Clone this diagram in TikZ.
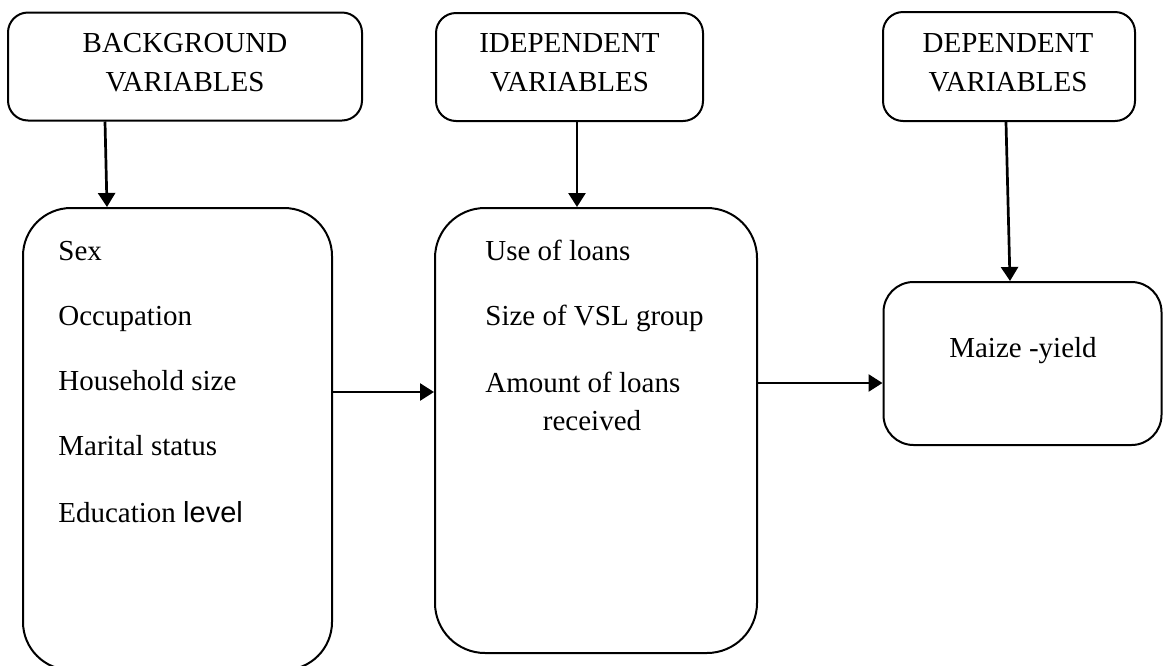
\documentclass[tikz,border=0pt]{standalone}
\usepackage{fontspec}
\setmainfont{Liberation Serif}
\newfontfamily\arialfont{Liberation Sans}
\usetikzlibrary{arrows.meta}
\begin{document}
\begin{tikzpicture}[x=0.5pt,y=-0.5pt,
  every node/.style={font=\fontsize{14.5pt}{19.5pt}\selectfont},
  topbox/.style={draw, line width=1pt, rounded corners=10pt, inner sep=0pt},
  bigbox/.style={draw, line width=1pt, inner sep=0pt},
  txt/.style={inner sep=0pt, anchor=base west},
  head/.style={inner sep=0pt, align=center},
  arr/.style={line width=1.35pt, -{Triangle[length=7pt,width=8.5pt]}}]
\useasboundingbox (0,0) rectangle (1163,665);
\clip (0,0) rectangle (1163,665);
% top boxes
\node[topbox, minimum width=177pt, minimum height=54pt] (hb) at (185,66.5) {};
\node[head] (hbt) at (185,63) {BACKGROUND\\VARIABLES};
\node[topbox, minimum width=133.5pt, minimum height=54pt] (hi) at (569.5,67) {};
\node[head] (hit) at (569.5,63) {IDEPENDENT\\VARIABLES};
\node[topbox, minimum width=126pt, minimum height=54.5pt] (hd) at (1009,66.5) {};
\node[head] (hdt) at (1008,63) {DEPENDENT\\VARIABLES};
% big boxes
\node[bigbox, rounded corners=24pt, minimum width=154.5pt, minimum height=231pt] (b1) at (177.5,439) {};
\node[bigbox, rounded corners=25pt, minimum width=161pt, minimum height=222.5pt] (b2) at (596,430.5) {};
\node[bigbox, rounded corners=15pt, minimum width=139pt, minimum height=81.5pt] (b3) at (1022.5,363.5) {};
% texts box 1
\node[txt] (t11) at (58,260) {Sex};
\node[txt] (t12) at (58,325) {Occupation};
\node[txt] (t13) at (58,390) {Household size};
\node[txt] (t14) at (58,455) {Marital status};
\node[txt] (t15) at (58,522) {Education {\arialfont level}};
% texts box 2
\node[txt] (t21) at (485,260) {Use of loans};
\node[txt] (t22) at (485,325) {Size of VSL group};
\node[txt] (t23) at (485,392) {Amount of loans};
\node[inner sep=0pt, anchor=base] (t24) at (592,430) {received};
% text box 3
\node[inner sep=0pt, anchor=base] (t31) at (1023,357) {Maize -yield};
% arrows
\draw[arr] ([xshift=-40pt]hb.south) -- ([xshift=-39pt]hb.south |- b1.north);
\draw[arr] ([xshift=3.75pt]hi.south) -- ([xshift=3.75pt]hi.south |- b2.north);
\draw[arr] ([xshift=-1.5pt]hd.south) -- ([xshift=0.5pt]hd.south |- b3.north);
\draw[arr] ([yshift=23.5pt]b1.east) -- ([yshift=23.5pt]b1.east -| b2.west);
\draw[arr] ([yshift=23.75pt]b2.east) -- ([yshift=23.75pt]b2.east -| b3.west);
\end{tikzpicture}
\end{document}
